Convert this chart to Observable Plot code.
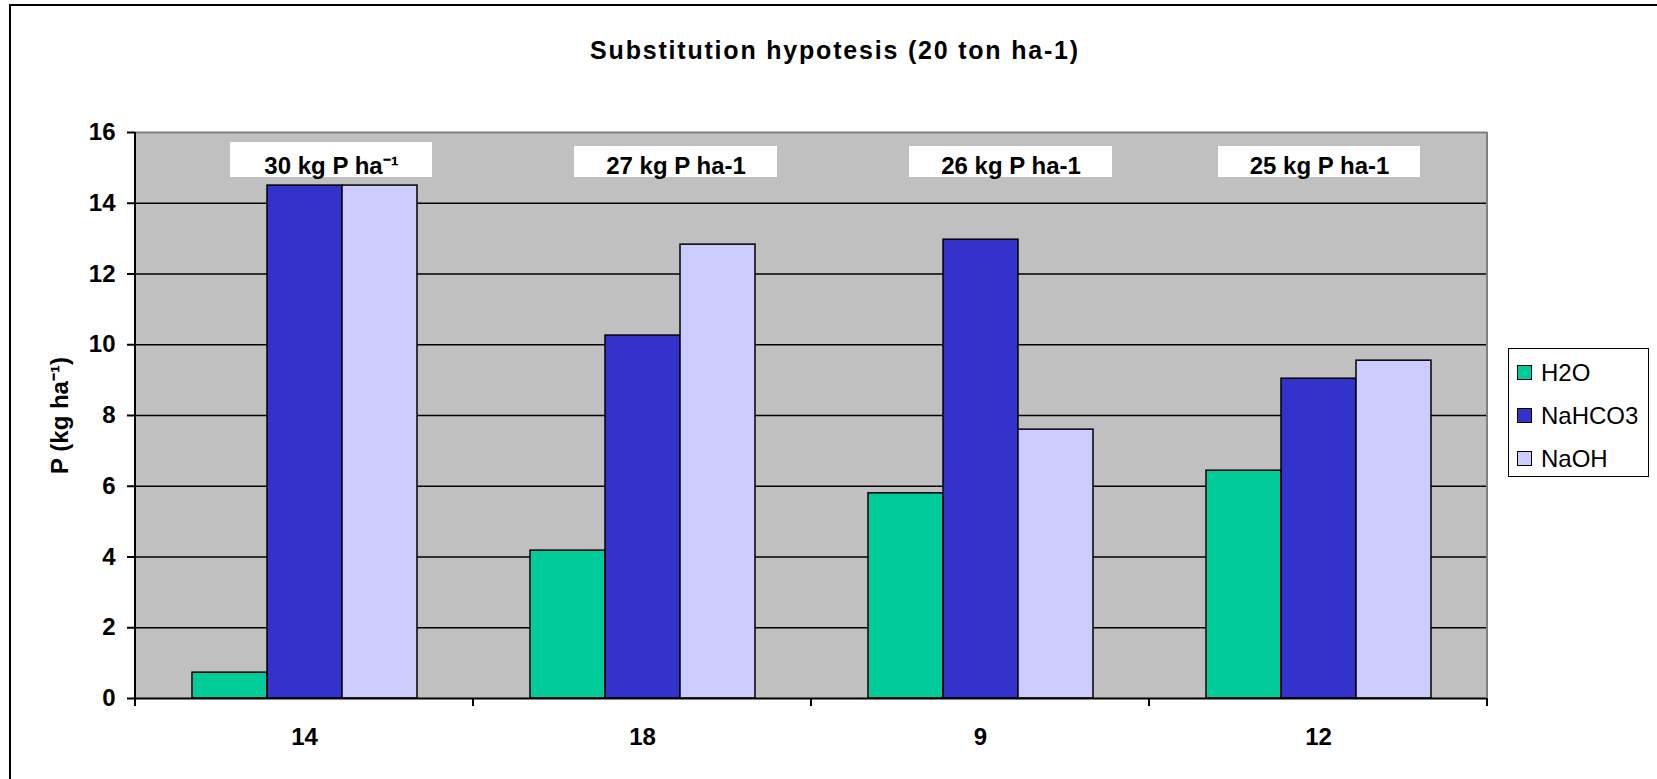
<!DOCTYPE html>
<html><head><meta charset="utf-8">
<script src="https://cdn.jsdelivr.net/npm/d3@7"></script>
<script src="https://cdn.jsdelivr.net/npm/@observablehq/plot@0.6"></script>
<style>
html,body{margin:0;padding:0;background:#fff;overflow:hidden;}
#wrap{position:relative;width:1657px;height:779px;font-family:"Liberation Sans",Arial,sans-serif;}
#chart{position:absolute;left:0;top:0;}
#outer{position:absolute;left:9px;top:4px;width:1700px;height:900px;border-left:2px solid #000;border-top:2px solid #000;pointer-events:none;}
#title{position:absolute;left:435px;width:800px;top:38px;text-align:center;font-weight:bold;font-size:25px;line-height:25px;letter-spacing:1.8px;color:#000;}
#legend{position:absolute;left:1508px;top:348px;width:141px;height:129px;box-sizing:border-box;border:1.5px solid #000;background:#fff;padding-top:2px;}
#legend .row{display:flex;align-items:center;height:43px;}
#legend .sw{width:15px;height:15px;box-sizing:border-box;border:1.5px solid #000;margin-left:8px;margin-right:9px;}
#legend .lb{font-size:24px;line-height:24px;color:#000;}
</style></head><body>
<div id="wrap"><div id="chart"></div><div id="outer"></div><div id="title"></div><div id="legend"></div></div>
<script>
// ---- data ----
const titleText = "Substitution hypotesis (20 ton ha-1)";
const yLabel = "P (kg ha\u207B\u00B9)";
const groups = ["14", "18", "9", "12"];
const series = ["H2O", "NaHCO3", "NaOH"];
const seriesColors = ["#00CC99", "#3333CC", "#CCCCFF"];
const h2o    = [0.73, 4.18, 5.80, 6.44];
const nahco3 = [14.5, 10.26, 12.97, 9.04];
const naoh   = [14.5, 12.83, 7.60, 9.55];
const doses = ["30 kg P ha\u207B\u00B9", "27 kg P ha-1", "26 kg P ha-1", "25 kg P ha-1"];
const yTicks = [0, 2, 4, 6, 8, 10, 12, 14, 16];

const valuesBySeries = [h2o, nahco3, naoh];
const data = groups.flatMap((g, i) => series.map((s, j) => ({group: g, series: s, value: valuesBySeries[j][i]})));
const annotations = groups.map((g, i) => ({group: g, label: doses[i]}));
const gridTicks = yTicks.filter(v => v > yTicks[0] && v < yTicks[yTicks.length - 1]);
const font = "'Liberation Sans', Arial, sans-serif";

function doseBox(i, insetLeft, insetRight, insetTop) {
  const d = [annotations[i]];
  return [
    Plot.rect(d, {fx: "group", fill: "white", insetLeft, insetRight, insetTop, insetBottom: 521}),
    Plot.text(d, {fx: "group", text: "label", frameAnchor: "top", lineAnchor: "bottom", dy: 41,
      dx: (insetLeft - insetRight) / 2, fontSize: 24, fontWeight: "bold", fontFamily: font, fill: "black"})
  ];
}

// decoration drawn in each facet: category boundary ticks, left axis line, right border
let facetCall = 0;
function decor(index, scales, values, dimensions) {
  const x = scales.x, y = scales.y, fx = scales.fx;
  const n = fx ? fx.domain().length : 1;
  const k = facetCall++ % n;
  const [left, right] = x.range();
  const [bottom, top] = y.range();
  const g = d3.create("svg:g");
  const line = (x1, y1, x2, y2, c, w) => g.append("line").attr("x1", x1).attr("y1", y1).attr("x2", x2).attr("y2", y2).attr("stroke", c).attr("stroke-width", w);
  line(left, bottom, left, bottom + 8, "black", 2);
  if (k === 0) line(left, top, left, bottom + 1, "black", 2);
  if (k === n - 1) {
    line(right, top, right, bottom, "#808080", 2);
    line(right, bottom, right, bottom + 8, "black", 2);
  }
  return g.node();
}

const chart = Plot.plot({
  width: 1657, height: 779,
  marginLeft: 135, marginRight: 170, marginTop: 132, marginBottom: 81,
  style: {fontFamily: font, fontSize: "24px", fontWeight: "bold", background: "transparent", color: "black", overflow: "visible"},
  fx: {domain: groups, padding: 0, label: null},
  x: {domain: series, paddingInner: 0, paddingOuter: 0.753, axis: null},
  y: {domain: [0, 16]},
  color: {domain: series, range: seriesColors},
  marks: [
    Plot.frame({fill: "#C0C0C0", stroke: null, insetLeft: -0.5, insetRight: -0.5, shapeRendering: "crispEdges"}),
    Plot.ruleY(gridTicks, {stroke: "black", strokeWidth: 1.5}),
    Plot.ruleY([yTicks[yTicks.length - 1]], {stroke: "#808080", strokeWidth: 2}),
    Plot.barY(data, {fx: "group", x: "series", y: "value", fill: "series", stroke: "black", strokeWidth: 1.5}),
    Plot.ruleY([0], {stroke: "black", strokeWidth: 2}),
    ...doseBox(0, 95, 41, 10),
    ...doseBox(1, 101, 34, 14),
    ...doseBox(2, 98, 37, 14),
    ...doseBox(3, 69, 67, 14),
    decor,
    Plot.axisY({ticks: yTicks, tickSize: 8, tickPadding: 12, strokeWidth: 2, fontSize: 24, fontWeight: "bold",
      label: yLabel, labelAnchor: "center", labelOffset: 85, labelArrow: "none"}),
    Plot.axisFx({anchor: "bottom", tickSize: 0, tickPadding: 29, fontSize: 24, fontWeight: "bold", label: null})
  ]
});
document.getElementById("chart").appendChild(chart);

document.getElementById("title").textContent = titleText;
const legend = d3.select("#legend");
series.forEach((s, i) => {
  const row = legend.append("div").attr("class", "row");
  row.append("div").attr("class", "sw").style("background", seriesColors[i]);
  row.append("div").attr("class", "lb").text(s);
});
</script>
</body></html>
